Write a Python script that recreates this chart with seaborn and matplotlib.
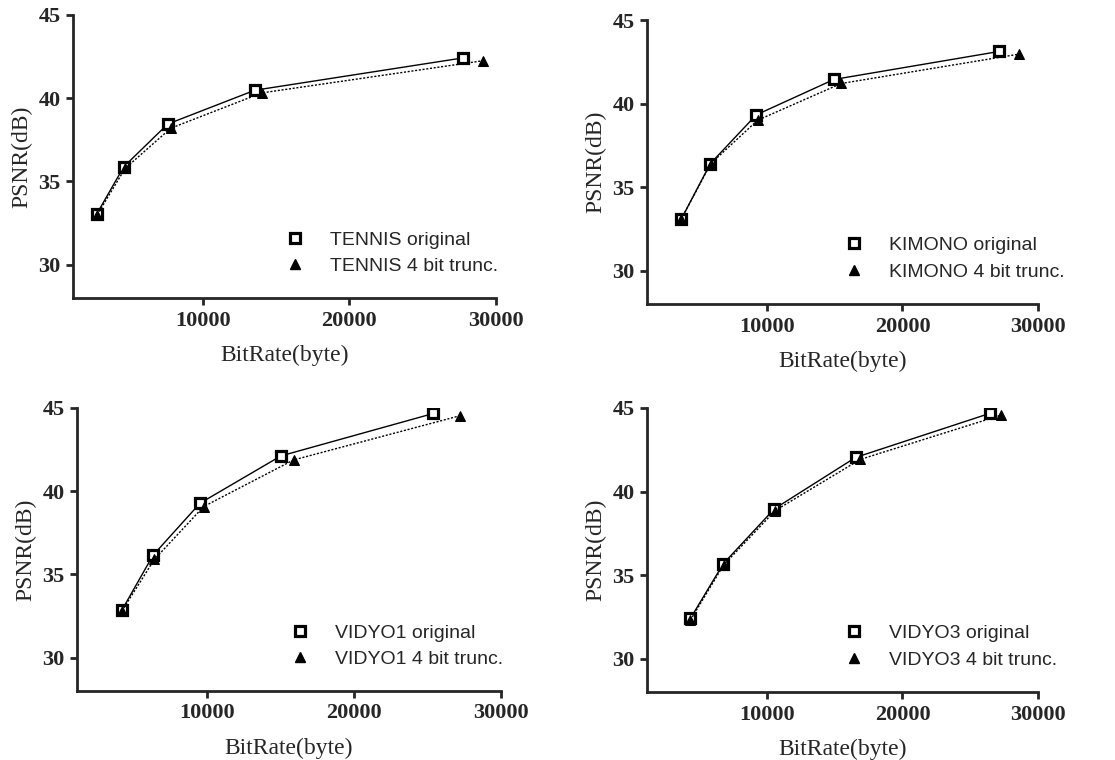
import matplotlib
matplotlib.use("Agg")
import matplotlib.pyplot as plt
from matplotlib.lines import Line2D
import seaborn as sns

# sequence names (legend prefix)
names = ["TENNIS", "KIMONO", "VIDYO1", "VIDYO3"]

# bitrate (byte) / PSNR (dB)
tennis_orig_rate = [2770, 4610, 7610, 13550, 27730]
tennis_orig_psnr = [33.05, 35.88, 38.45, 40.48, 42.42]
tennis_trunc_rate = [2800, 4700, 7820, 14020, 29090]
tennis_trunc_psnr = [33.0, 35.78, 38.2, 40.32, 42.25]

kimono_orig_rate = [3690, 5820, 9210, 14940, 27150]
kimono_orig_psnr = [33.1, 36.4, 39.32, 41.44, 43.12]
kimono_trunc_rate = [3690, 5850, 9310, 15480, 28620]
kimono_trunc_psnr = [33.1, 36.4, 39.0, 41.2, 42.96]

vidyo1_orig_rate = [4200, 6320, 9520, 15020, 25390]
vidyo1_orig_psnr = [32.85, 36.15, 39.28, 42.12, 44.67]
vidyo1_trunc_rate = [4200, 6410, 9770, 15890, 27180]
vidyo1_trunc_psnr = [32.8, 35.9, 39.08, 41.88, 44.53]

vidyo3_orig_rate = [4350, 6780, 10540, 16540, 26490]
vidyo3_orig_psnr = [32.4, 35.68, 38.96, 42.04, 44.69]
vidyo3_trunc_rate = [4350, 6800, 10610, 16880, 27270]
vidyo3_trunc_psnr = [32.3, 35.6, 38.86, 41.92, 44.57]

x_ticks = [10000, 20000, 30000]
y_ticks = [30, 35, 40, 45]

sns.set_style("ticks")
plt.rcParams["font.family"] = ["Liberation Serif", "DejaVu Serif"]

fig = plt.figure(figsize=(11.15, 7.6), dpi=100)

# axes boxes in pixels: left, right, top, bottom
boxes = [(73, 496, 15, 298), (647, 1038, 20, 304),
         (77, 501, 408, 691), (647, 1038, 408, 692)]

panels = [
    (tennis_orig_rate, tennis_orig_psnr, tennis_trunc_rate, tennis_trunc_psnr),
    (kimono_orig_rate, kimono_orig_psnr, kimono_trunc_rate, kimono_trunc_psnr),
    (vidyo1_orig_rate, vidyo1_orig_psnr, vidyo1_trunc_rate, vidyo1_trunc_psnr),
    (vidyo3_orig_rate, vidyo3_orig_psnr, vidyo3_trunc_rate, vidyo3_trunc_psnr),
]

W, H = 1115, 760
for name, (l, r, t, b), (xo, yo, xt, yt) in zip(names, boxes, panels):
    ax = fig.add_axes([l / W, 1 - b / H, (r - l) / W, (b - t) / H])

    # original: open squares, solid line; truncated: filled triangles, dotted
    sns.lineplot(x=xo, y=yo, ax=ax, color="black", linewidth=1.0,
                 marker="s", markersize=7.5, markerfacecolor="white",
                 markeredgecolor="black", markeredgewidth=2.3,
                 sort=False, estimator=None)
    sns.lineplot(x=xt, y=yt, ax=ax, color="black", linewidth=1.0,
                 linestyle=(0, (1.5, 1.2)), marker="^", markersize=7,
                 markerfacecolor="black", markeredgecolor="black",
                 sort=False, estimator=None)

    ax.set_xlim(1150, 30000)
    ax.set_ylim(28, 45)
    ax.set_xticks(x_ticks)
    ax.set_yticks(y_ticks)
    for lab in ax.get_xticklabels() + ax.get_yticklabels():
        lab.set_fontweight("bold")
        lab.set_fontsize(16)
    ax.tick_params(direction="out", length=5, width=2, pad=4)
    for s in ["left", "bottom"]:
        ax.spines[s].set_linewidth(2)
    sns.despine(ax=ax)

    ax.set_xlabel("BitRate(byte)", fontsize=17, labelpad=10)
    ax.set_ylabel("PSNR(dB)", fontsize=17, labelpad=4)

    handles = [
        Line2D([], [], linestyle="none", marker="s", markersize=7.5,
               markerfacecolor="white", markeredgecolor="black", markeredgewidth=2.3),
        Line2D([], [], linestyle="none", marker="^", markersize=7,
               markerfacecolor="black", markeredgecolor="black"),
    ]
    ax.legend(handles, [f"{name} original", f"{name} 4 bit trunc."],
              loc="upper left", bbox_to_anchor=(0.479, 0.237), frameon=False,
              borderpad=0, borderaxespad=0, handlelength=2, handletextpad=0.8,
              labelspacing=0.46, prop={"family": "Liberation Sans", "size": 14})

fig.savefig("out.png", dpi=100)
